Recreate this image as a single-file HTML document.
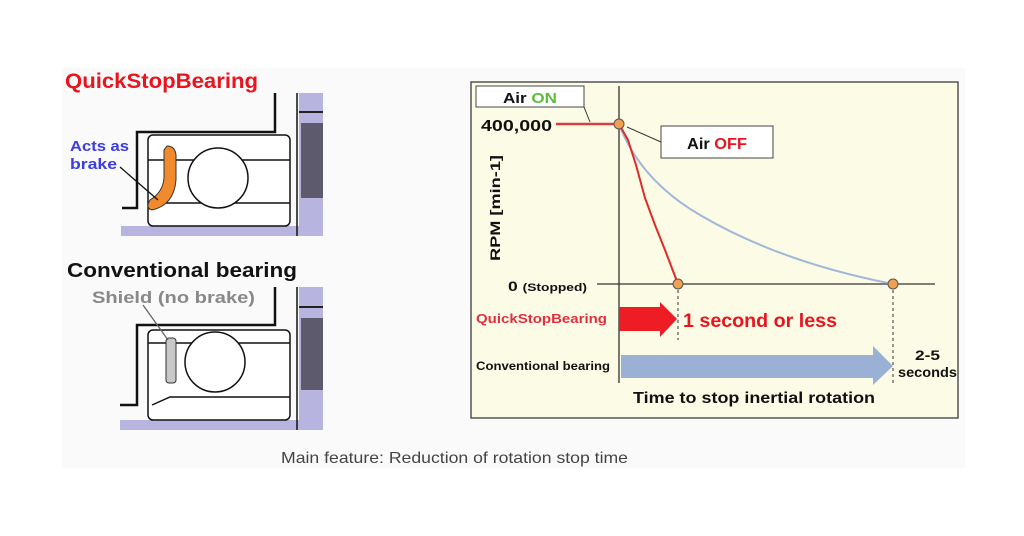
<!DOCTYPE html>
<html><head><meta charset="utf-8"><style>
html,body{margin:0;padding:0;background:#fff;width:1024px;height:536px;overflow:hidden}
svg{display:block;font-family:"Liberation Sans","DejaVu Sans",sans-serif}
</style></head><body>
<svg width="1024" height="536" viewBox="0 0 1024 536" xmlns="http://www.w3.org/2000/svg">
<rect x="62" y="68" width="903" height="400" fill="#fafafa"/>
<!-- Left top bearing -->
<text x="65" y="88" font-size="21" font-weight="bold" fill="#e8141e" textLength="193" lengthAdjust="spacingAndGlyphs">QuickStopBearing</text>
<rect x="299" y="93" width="24" height="143" fill="#b8b4e0"/>
<rect x="301" y="123" width="22" height="75" fill="#5c5a6c"/>
<line x1="299" y1="112" x2="323" y2="112" stroke="#222" stroke-width="2"/>
<rect x="121" y="226" width="178" height="10" fill="#b8b4e0"/>
<polyline points="122,208 137,208 137,132 275,132 275,93" fill="none" stroke="#111" stroke-width="2.5"/>
<rect x="148" y="135" width="142" height="91" rx="5" fill="#fff" stroke="#111" stroke-width="1.5"/>
<line x1="148" y1="160" x2="290" y2="160" stroke="#111" stroke-width="1.5"/>
<line x1="148" y1="203" x2="290" y2="203" stroke="#111" stroke-width="1.5"/>
<line x1="297" y1="93" x2="297" y2="236" stroke="#111" stroke-width="1.5"/>
<circle cx="218" cy="178" r="30" fill="#fff" stroke="#111" stroke-width="1.5"/>
<path d="M167,146 Q175,146 176,155 L176,180 Q174,205 152,210 Q145,208 150,200 Q163,192 164,178 L164,150 Z" fill="#f08a2c" stroke="#333" stroke-width="1"/>
<line x1="120" y1="167" x2="158" y2="200" stroke="#111" stroke-width="1.3"/>
<text x="70" y="151" font-size="15" font-weight="bold" fill="#3c3ce0" textLength="59" lengthAdjust="spacingAndGlyphs">Acts as</text>
<text x="70" y="169" font-size="15" font-weight="bold" fill="#3c3ce0" textLength="47" lengthAdjust="spacingAndGlyphs">brake</text>
<!-- Left bottom bearing -->
<text x="67" y="277" font-size="20" font-weight="bold" fill="#111" textLength="230" lengthAdjust="spacingAndGlyphs">Conventional bearing</text>
<text x="92" y="303" font-size="17" font-weight="bold" fill="#888" textLength="163" lengthAdjust="spacingAndGlyphs">Shield (no brake)</text>
<rect x="299" y="287" width="24" height="143" fill="#b8b4e0"/>
<rect x="301" y="318" width="22" height="72" fill="#5c5a6c"/>
<line x1="299" y1="307" x2="323" y2="307" stroke="#222" stroke-width="2"/>
<rect x="120" y="420" width="179" height="10" fill="#b8b4e0"/>
<polyline points="120,405 137,405 137,325 275,325 275,287" fill="none" stroke="#111" stroke-width="2.5"/>
<rect x="148" y="330" width="142" height="90" rx="5" fill="#fff" stroke="#111" stroke-width="1.5"/>
<line x1="148" y1="343" x2="290" y2="343" stroke="#111" stroke-width="1.5"/>
<polyline points="152,405 170,397 290,397" fill="none" stroke="#111" stroke-width="1.5"/>
<line x1="297" y1="287" x2="297" y2="430" stroke="#111" stroke-width="1.5"/>
<circle cx="215" cy="362" r="30" fill="#fff" stroke="#111" stroke-width="1.5"/>
<rect x="166" y="338" width="10" height="45" rx="3" fill="#c8c8c8" stroke="#333" stroke-width="1"/>
<line x1="143" y1="305" x2="168" y2="340" stroke="#666" stroke-width="1.3"/>
<!-- Chart -->
<rect x="471" y="82" width="487" height="336" fill="#fbfbe6" stroke="#555" stroke-width="1.5"/>
<line x1="619" y1="86" x2="619" y2="383" stroke="#333" stroke-width="1.3"/>
<line x1="597" y1="284" x2="935" y2="284" stroke="#333" stroke-width="1.3"/>
<path d="M619,124 Q640,180 700,215 Q780,262 893,284" fill="none" stroke="#9fb8d8" stroke-width="2"/>
<line x1="556" y1="124" x2="619" y2="124" stroke="#d84040" stroke-width="2.5"/>
<polyline points="619,124 628,140 636,165 645,198 655,225 665,250 678,284" fill="none" stroke="#e02a2a" stroke-width="2"/>
<line x1="678" y1="284" x2="678" y2="340" stroke="#333" stroke-dasharray="3,3"/>
<line x1="893" y1="284" x2="893" y2="384" stroke="#333" stroke-dasharray="3,3"/>
<circle cx="619" cy="124" r="5" fill="#f0a050" stroke="#555"/>
<circle cx="678" cy="284" r="5" fill="#f0a050" stroke="#555"/>
<circle cx="893" cy="284" r="5" fill="#f0a050" stroke="#555"/>
<rect x="476" y="86" width="108" height="21" fill="#fff" stroke="#444"/>
<text x="503" y="103" font-size="15" font-weight="bold" fill="#111" textLength="54" lengthAdjust="spacingAndGlyphs">Air <tspan fill="#5cbe3c">ON</tspan></text>
<line x1="584" y1="107" x2="590" y2="122" stroke="#333"/>
<rect x="661" y="126" width="112" height="32" fill="#fff" stroke="#444"/>
<text x="687" y="149" font-size="16" font-weight="bold" fill="#111" textLength="60" lengthAdjust="spacingAndGlyphs">Air <tspan fill="#e8141e">OFF</tspan></text>
<line x1="661" y1="142" x2="627" y2="127" stroke="#333"/>
<text x="481" y="131" font-size="16" font-weight="bold" fill="#111" textLength="71" lengthAdjust="spacingAndGlyphs">400,000</text>
<text x="508" y="291" font-size="14" font-weight="bold" fill="#111" textLength="79" lengthAdjust="spacingAndGlyphs">0 <tspan font-size="11">(Stopped)</tspan></text>
<text transform="translate(500,261) rotate(-90)" font-size="14" font-weight="bold" fill="#111" textLength="106" lengthAdjust="spacingAndGlyphs">RPM [min-1]</text>
<polygon points="619,307 660,307 660,302 677,319 660,337 660,331 619,331" fill="#ee1c24"/>
<text x="476" y="323" font-size="13" font-weight="bold" fill="#e03040" textLength="131" lengthAdjust="spacingAndGlyphs">QuickStopBearing</text>
<text x="683" y="327" font-size="19" font-weight="bold" fill="#e8141e" textLength="154" lengthAdjust="spacingAndGlyphs">1 second or less</text>
<polygon points="621,355 873,355 873,346 893,366 873,385 873,378 621,378" fill="#9ab0d4"/>
<text x="476" y="370" font-size="12" font-weight="bold" fill="#111" textLength="134" lengthAdjust="spacingAndGlyphs">Conventional bearing</text>
<text x="915" y="360" font-size="14" font-weight="bold" fill="#111" textLength="25" lengthAdjust="spacingAndGlyphs">2-5</text>
<text x="898" y="377" font-size="14" font-weight="bold" fill="#111" textLength="59" lengthAdjust="spacingAndGlyphs">seconds</text>
<text x="633" y="403" font-size="16" font-weight="bold" fill="#111" textLength="242" lengthAdjust="spacingAndGlyphs">Time to stop inertial rotation</text>
<text x="281" y="463" font-size="16" fill="#444" textLength="347" lengthAdjust="spacingAndGlyphs">Main feature: Reduction of rotation stop time</text>
</svg>
</body></html>
